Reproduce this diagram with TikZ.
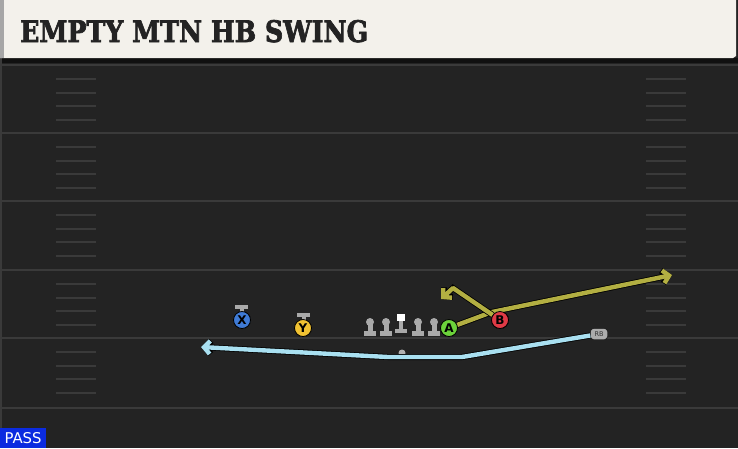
\documentclass[tikz,border=0pt]{standalone}
\usepackage{fontspec}
\setmainfont{DejaVu Serif}
\setsansfont{DejaVu Sans}
\newfontfamily\titlefont{DejaVu Serif}[BoldFeatures={FakeBold=2.5}]
\usetikzlibrary{arrows.meta}

\definecolor{fieldbg}{HTML}{232323}
\definecolor{fieldline}{HTML}{3A3A3A}
\definecolor{headerbg}{HTML}{F3F1EB}
\definecolor{titleink}{HTML}{232323}
\definecolor{xblue}{HTML}{3F7BD6}
\definecolor{yyellow}{HTML}{F1C232}
\definecolor{agreen}{HTML}{6CD23B}
\definecolor{bred}{HTML}{E03A46}
\definecolor{lineman}{HTML}{C9C9C9}
\definecolor{linehead}{HTML}{A9A9A9}
\definecolor{olive}{HTML}{B3AF42}
\definecolor{skyroute}{HTML}{A9E0F1}
\definecolor{passblue}{HTML}{0B2BE0}

\begin{document}
\begin{tikzpicture}[x=1pt, y=-1pt,
    player/.style={circle, draw=black, line width=0.8pt, minimum size=17pt, inner sep=0pt,
      font=\sffamily\bfseries\fontsize{12}{12}\selectfont},
    route/.style={line width=4.4pt, line join=round,
      -{Straight Barb[length=6pt, width=13pt]},
      preaction={draw=black, line width=6pt}},
    lineman/.style={circle, fill=linehead, minimum size=8pt, inner sep=0pt}]
  \useasboundingbox (0,0) rectangle (738,448);
  % field
  \fill[fieldbg] (0,0) rectangle (738,448);
  \fill[black!55!fieldbg] (0,58) rectangle (738,63);
  \fill[fieldline] (0,58) rectangle (2,448);
  \foreach \yl in {65,133,201,270,338,408}
    \draw[fieldline, line width=2pt] (0,\yl) -- (738,\yl);
  \foreach \yl in {65,133,201,270,338}
    \foreach \dy in {14,28,41,55} {
      \draw[fieldline, line width=1.5pt] (56,\yl+\dy) -- (96,\yl+\dy);
      \draw[fieldline, line width=1.5pt] (646,\yl+\dy) -- (686,\yl+\dy);
    }
  % header
  \fill[headerbg] (0,0) -- (736,0) -- (736,56) -- (733,58) -- (0,58) -- cycle;
  \fill[gray!70] (0,0) rectangle (4,58);
  \node[anchor=base west, inner sep=0pt, text=titleink] (title) at (20,42)
    {\resizebox{348pt}{22pt}{\titlefont\bfseries EMPTY MTN HB SWING}};

  % line
  \foreach \lx/\nm in {370/lt, 386/lg, 418/rg, 434/rt} {
    \fill[lineman] (\lx-6,331) rectangle (\lx+6,335.5);
    \fill[lineman] (\lx-2.5,323) rectangle (\lx+2.5,331);
    \node[lineman] (\nm) at (\lx,322) {};
  }
  \fill[lineman] (395,329) rectangle (407,333);
  \fill[lineman] (399,321) rectangle (403,329);
  \node[rectangle, fill=white, minimum size=7.5pt, inner sep=0pt] (c) at (401,317.5) {};
  \node[circle, fill=gray!60, minimum size=7pt, inner sep=0pt] (qb) at (402,353) {};

  % receivers
  \fill[lineman] (235,305) rectangle (248,308.5);
  \fill[lineman] (239.5,308.5) rectangle (243.5,312);
  \node[player, fill=xblue] (X) at (242,320) {X};
  \fill[lineman] (297,313) rectangle (310,316.5);
  \fill[lineman] (301.5,316.5) rectangle (305.5,320);
  \node[player, fill=yyellow] (Y) at (303,328) {Y};
  \node[player, fill=agreen] (A) at (449,328) {A};
  \node[player, fill=bred] (B) at (500,320) {B};
  \node[draw=black, fill=gray!65, rounded corners=3pt, minimum width=17pt,
    minimum height=11pt, inner sep=0pt, text=black!80,
    font=\sffamily\fontsize{6.5}{6.5}\selectfont] (rb) at (599,334) {RB};

  % routes
  \coordinate (abreak) at (492,312);
  \coordinate (aend) at (672,275);
  \coordinate (bbreak) at (453,288);
  \coordinate (bend) at (441,299);
  \coordinate (rbbreak) at (462,357);
  \coordinate (rbflat) at (388,357);
  \coordinate (rbend) at (201,347);
  \draw[route, olive] (A) -- (abreak) -- (aend);
  \draw[route, olive] (B) -- (bbreak) -- (bend);
  \draw[route, skyroute] (rb) -- (rbbreak) -- (rbflat) -- (rbend);
  \node[player, fill=bred] at (B) {B};

  % play type
  \fill[passblue] (0,428) rectangle (46,448);
  \node[inner sep=0pt, text=white] (pass) at (23,438.5)
    {\resizebox{37pt}{11pt}{\sffamily PASS}};
\end{tikzpicture}
\end{document}
